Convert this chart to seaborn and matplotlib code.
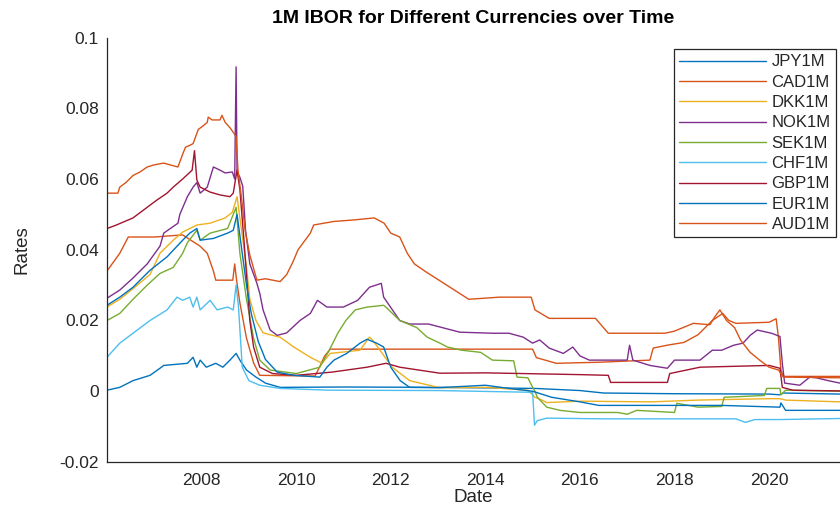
import numpy as np
import pandas as pd
import matplotlib
matplotlib.use("Agg")
import matplotlib.pyplot as plt
import seaborn as sns

# ---------------- data (decimal years, rates) ----------------
series_names = ["JPY1M", "CAD1M", "DKK1M", "NOK1M", "SEK1M", "CHF1M", "GBP1M", "EUR1M", "AUD1M"]
series_colors = ["#0072BD", "#D95319", "#EDB120", "#7E2F8E", "#77AC30",
                 "#4DBEEE", "#A2142F", "#0072BD", "#D95319"]

jpy_t = [2006.0, 2006.27, 2006.55, 2006.91, 2007.12, 2007.2, 2007.7, 2007.82, 2007.9, 2007.97,
         2008.1, 2008.3, 2008.45, 2008.6, 2008.73, 2008.81, 2008.95, 2009.15, 2009.35, 2009.66,
         2011.0, 2013.0, 2015.05, 2016.0, 2016.5, 2018.0, 2020.0, 2020.23, 2020.3, 2021.5]
jpy_v = [0.0003, 0.0011, 0.003, 0.0045, 0.0065, 0.0073, 0.0079, 0.0096, 0.0068, 0.0088,
         0.0068, 0.0079, 0.0068, 0.0088, 0.0107, 0.0088, 0.006, 0.004, 0.0023, 0.0011,
         0.0012, 0.0011, 0.0008, 0.0002, -0.0005, -0.0007, -0.0008, -0.001, -0.0005, -0.0008]

cad_t = [2006.0, 2006.27, 2006.45, 2007.0, 2007.6, 2007.97, 2008.12, 2008.25, 2008.3, 2008.66,
         2008.7, 2008.74, 2008.81, 2008.95, 2009.1, 2009.23, 2010.4, 2010.5, 2010.6, 2010.72,
         2015.0, 2015.08, 2015.5, 2016.4, 2017.48, 2017.55, 2017.84, 2018.2, 2018.5, 2018.8,
         2019.02, 2019.15, 2019.3, 2020.0, 2020.15, 2020.2, 2020.25, 2020.3, 2021.5]
cad_v = [0.034, 0.039, 0.0436, 0.0436, 0.0442, 0.041, 0.039, 0.034, 0.0314, 0.0314,
         0.036, 0.0314, 0.025, 0.015, 0.008, 0.0045, 0.0043, 0.007, 0.0099, 0.0119,
         0.0119, 0.0095, 0.0079, 0.0082, 0.0088, 0.0122, 0.013, 0.0138, 0.016, 0.020,
         0.022, 0.020, 0.0192, 0.0195, 0.0205, 0.015, 0.006, 0.0042, 0.0042]

dkk_t = [2006.0, 2006.27, 2006.55, 2006.91, 2007.12, 2007.4, 2007.6, 2007.9, 2008.18, 2008.5,
         2008.65, 2008.75, 2008.85, 2008.95, 2009.02, 2009.15, 2009.3, 2009.5, 2009.66, 2009.95,
         2010.3, 2010.55, 2010.72, 2011.35, 2011.55, 2011.62, 2011.82, 2012.03, 2012.4, 2012.62,
         2013.04, 2014.0, 2014.9, 2015.05, 2015.2, 2015.3, 2016.0, 2017.5, 2018.5, 2020.0,
         2020.23, 2020.35, 2021.5]
dkk_v = [0.0238, 0.026, 0.029, 0.033, 0.039, 0.0427, 0.045, 0.047, 0.0475, 0.049,
         0.0506, 0.055, 0.045, 0.035, 0.026, 0.020, 0.0165, 0.0158, 0.0153, 0.0125,
         0.0096, 0.0079, 0.0107, 0.0116, 0.0153, 0.0144, 0.0107, 0.0068, 0.003, 0.0023,
         0.001, 0.0011, 0.0003, -0.0017, -0.0025, -0.0032, -0.0028, -0.003, -0.0025, -0.0021,
         -0.0021, -0.0025, -0.003]

nok_t = [2006.0, 2006.27, 2006.55, 2006.85, 2007.12, 2007.2, 2007.5, 2007.54, 2007.7, 2007.82,
         2007.9, 2007.97, 2008.12, 2008.25, 2008.39, 2008.5, 2008.65, 2008.7, 2008.73, 2008.75,
         2008.81, 2008.87, 2008.93, 2009.02, 2009.17, 2009.23, 2009.3, 2009.45, 2009.6, 2009.8,
         2010.08, 2010.3, 2010.45, 2010.65, 2011.0, 2011.3, 2011.55, 2011.8, 2011.85, 2012.19,
         2012.4, 2012.8, 2013.46, 2014.15, 2014.5, 2014.8, 2015.0, 2015.15, 2015.35, 2015.65,
         2015.85, 2016.0, 2016.2, 2017.0, 2017.05, 2017.12, 2017.48, 2017.85, 2018.0, 2018.54,
         2018.8, 2019.0, 2019.25, 2019.45, 2019.6, 2019.75, 2020.05, 2020.23, 2020.28, 2020.33,
         2020.65, 2020.86, 2021.0, 2021.25, 2021.5]
nok_v = [0.0263, 0.0286, 0.032, 0.036, 0.041, 0.0447, 0.0475, 0.050, 0.055, 0.0577,
         0.059, 0.056, 0.0577, 0.0634, 0.0625, 0.0617, 0.062, 0.060, 0.0917, 0.062,
         0.0605, 0.058, 0.0455, 0.036, 0.0305, 0.0277, 0.023, 0.0173, 0.0158, 0.0165,
         0.020, 0.022, 0.0257, 0.0238, 0.0238, 0.0257, 0.0294, 0.0305, 0.0266, 0.020,
         0.019, 0.019, 0.0167, 0.0164, 0.0164, 0.0153, 0.0136, 0.0145, 0.0122, 0.0107,
         0.0125, 0.010, 0.0088, 0.0088, 0.013, 0.0088, 0.0073, 0.0065, 0.0088, 0.0088,
         0.0116, 0.0116, 0.013, 0.0136, 0.0158, 0.0173, 0.0164, 0.0155, 0.0079, 0.0023,
         0.0017, 0.004, 0.0038, 0.003, 0.0023]

sek_t = [2006.0, 2006.27, 2006.55, 2006.85, 2007.12, 2007.4, 2007.6, 2007.7, 2007.9, 2007.97,
         2008.18, 2008.55, 2008.73, 2008.81, 2008.95, 2009.1, 2009.23, 2009.45, 2010.0, 2010.5,
         2010.7, 2010.88, 2011.05, 2011.25, 2011.5, 2011.85, 2011.92, 2012.19, 2012.55, 2012.77,
         2013.04, 2013.2, 2013.5, 2013.9, 2014.15, 2014.6, 2014.67, 2014.9, 2015.0, 2015.05,
         2015.1, 2015.3, 2015.58, 2016.0, 2016.8, 2017.0, 2017.2, 2018.0, 2018.05, 2018.5,
         2019.0, 2019.05, 2019.9, 2019.95, 2020.23, 2020.25, 2020.35, 2021.5]
sek_v = [0.020, 0.022, 0.026, 0.030, 0.0333, 0.035, 0.039, 0.042, 0.0455, 0.0427,
         0.0447, 0.046, 0.052, 0.039, 0.026, 0.015, 0.0088, 0.006, 0.005, 0.0068,
         0.0116, 0.0164, 0.020, 0.023, 0.0238, 0.0243, 0.0235, 0.020, 0.018, 0.0153,
         0.0136, 0.0125, 0.0116, 0.011, 0.0088, 0.0086, 0.004, 0.0038, 0.0011, 0.0,
         -0.0017, -0.0045, -0.0054, -0.006, -0.006, -0.0065, -0.0054, -0.006, -0.0034, -0.0045,
         -0.0043, -0.0017, -0.0012, 0.0008, 0.0008, -0.001, 0.0003, 0.0]

chf_t = [2006.0, 2006.27, 2006.55, 2006.91, 2007.27, 2007.48, 2007.6, 2007.75, 2007.82, 2007.9,
         2007.97, 2008.18, 2008.33, 2008.55, 2008.67, 2008.73, 2008.78, 2008.86, 2009.0, 2009.23,
         2009.66, 2010.7, 2013.0, 2015.0, 2015.04, 2015.1, 2015.3, 2016.5, 2019.3, 2019.5,
         2019.7, 2020.23, 2021.5]
chf_v = [0.0096, 0.0136, 0.0164, 0.020, 0.023, 0.0266, 0.0257, 0.0266, 0.0238, 0.0266,
         0.023, 0.0257, 0.023, 0.0238, 0.023, 0.030, 0.024, 0.0068, 0.003, 0.0017,
         0.0008, 0.0003, 0.0002, -0.0003, -0.0096, -0.0083, -0.0076, -0.0078, -0.0078, -0.0088,
         -0.008, -0.008, -0.0077]

gbp_t = [2006.0, 2006.2, 2006.55, 2006.85, 2007.05, 2007.27, 2007.4, 2007.6, 2007.8, 2007.85,
         2007.9, 2007.97, 2008.18, 2008.39, 2008.6, 2008.67, 2008.75, 2008.81, 2008.9, 2009.02,
         2009.1, 2009.23, 2009.5, 2010.0, 2010.75, 2011.5, 2011.9, 2012.19, 2013.04, 2014.0,
         2016.0, 2016.6, 2016.65, 2017.0, 2017.85, 2017.9, 2018.54, 2020.0, 2020.23, 2020.28,
         2020.5, 2021.5]
gbp_v = [0.046, 0.047, 0.049, 0.052, 0.054, 0.056, 0.0577, 0.060, 0.0625, 0.068,
         0.0597, 0.0577, 0.0563, 0.0555, 0.055, 0.056, 0.0625, 0.057, 0.042, 0.020,
         0.0125, 0.0068, 0.005, 0.0045, 0.0054, 0.0068, 0.0079, 0.0068, 0.0051, 0.0052,
         0.0047, 0.0045, 0.0025, 0.0025, 0.0025, 0.005, 0.0068, 0.0073, 0.0065, 0.0011,
         0.0003, 0.0001]

eur_t = [2006.0, 2006.27, 2006.55, 2006.91, 2007.27, 2007.6, 2007.75, 2007.9, 2007.97, 2008.25,
         2008.55, 2008.67, 2008.75, 2008.85, 2008.95, 2009.05, 2009.2, 2009.35, 2009.6, 2009.95,
         2010.5, 2010.65, 2010.8, 2011.07, 2011.35, 2011.5, 2011.7, 2011.85, 2012.0, 2012.2,
         2012.4, 2013.0, 2014.0, 2014.5, 2015.0, 2015.4, 2016.0, 2016.4, 2017.5, 2019.0,
         2020.23, 2020.25, 2020.35, 2021.5]
eur_v = [0.0243, 0.0266, 0.0294, 0.0342, 0.038, 0.0427, 0.0447, 0.046, 0.0427, 0.0432,
         0.0447, 0.0455, 0.050, 0.040, 0.030, 0.022, 0.014, 0.009, 0.0054, 0.0045,
         0.004, 0.0068, 0.0088, 0.0107, 0.0136, 0.0147, 0.0136, 0.0125, 0.0068, 0.003,
         0.0011, 0.001, 0.0017, 0.0008, 0.0, -0.0017, -0.003, -0.004, -0.004, -0.004,
         -0.0045, -0.0033, -0.0054, -0.0054]

aud_t = [2006.0, 2006.23, 2006.27, 2006.4, 2006.55, 2006.7, 2006.85, 2007.0, 2007.2, 2007.33,
         2007.5, 2007.6, 2007.66, 2007.75, 2007.82, 2007.93, 2008.03, 2008.12, 2008.14, 2008.22,
         2008.39, 2008.43, 2008.5, 2008.6, 2008.68, 2008.73, 2008.77, 2008.85, 2008.92, 2009.02,
         2009.17, 2009.35, 2009.66, 2009.8, 2009.93, 2010.04, 2010.3, 2010.37, 2010.8, 2011.2,
         2011.65, 2011.86, 2012.0, 2012.19, 2012.35, 2012.5, 2012.75, 2012.95, 2013.3, 2013.65,
         2014.3, 2014.97, 2015.05, 2015.35, 2016.33, 2016.6, 2017.8, 2018.0, 2018.4, 2018.75,
         2018.85, 2018.96, 2019.1, 2019.27, 2019.4, 2019.6, 2019.8, 2020.0, 2020.2, 2020.3,
         2021.5]
aud_v = [0.056, 0.056, 0.0577, 0.059, 0.061, 0.062, 0.0634, 0.064, 0.0645, 0.064,
         0.0634, 0.067, 0.069, 0.0695, 0.070, 0.074, 0.075, 0.076, 0.0775, 0.0767,
         0.0767, 0.078, 0.076, 0.0745, 0.073, 0.0719, 0.0625, 0.054, 0.0455, 0.0385,
         0.0314, 0.0318, 0.031, 0.033, 0.0365, 0.040, 0.0447, 0.047, 0.048, 0.0484,
         0.049, 0.0475, 0.0447, 0.0436, 0.039, 0.036, 0.0337, 0.032, 0.029, 0.026,
         0.0266, 0.0266, 0.023, 0.0206, 0.0206, 0.0164, 0.0164, 0.017, 0.0192, 0.0188,
         0.021, 0.023, 0.020, 0.018, 0.0144, 0.011, 0.0088, 0.0068, 0.006, 0.004,
         0.0038]

x_ticks = [2008, 2010, 2012, 2014, 2016, 2018, 2020]
x_tick_labels = ["2008", "2010", "2012", "2014", "2016", "2018", "2020"]
y_ticks = [-0.02, 0, 0.02, 0.04, 0.06, 0.08, 0.1]
y_tick_labels = ["-0.02", "0", "0.02", "0.04", "0.06", "0.08", "0.1"]

# ---------------- build long table ----------------
all_t = [jpy_t, cad_t, dkk_t, nok_t, sek_t, chf_t, gbp_t, eur_t, aud_t]
all_v = [jpy_v, cad_v, dkk_v, nok_v, sek_v, chf_v, gbp_v, eur_v, aud_v]
frames = []
for name, t, v in zip(series_names, all_t, all_v):
    frames.append(pd.DataFrame({"Date": t, "Rate": v, "Series": name}))
df = pd.concat(frames, ignore_index=True)

# ---------------- plot ----------------
sns.set_theme(style="white")
plt.rcParams["font.family"] = ["Liberation Sans", "DejaVu Sans"]
ink = "#262626"

W, H = 840, 513
fig = plt.figure(figsize=(W / 100, H / 100), dpi=100)
ax = fig.add_axes([107 / W, 1 - 462 / H, (W - 107) / W, (462 - 37.5) / H])

palette = dict(zip(series_names, series_colors))
sns.lineplot(data=df, x="Date", y="Rate", hue="Series", hue_order=series_names,
             palette=palette, estimator=None, sort=True, linewidth=1.0, ax=ax)

ax.set_xlim(2006.0, 2021.5)
ax.set_ylim(-0.02, 0.1)
ax.set_xticks(x_ticks)
ax.set_xticklabels(x_tick_labels)
ax.set_yticks(y_ticks)
ax.set_yticklabels(y_tick_labels)

for side in ["top", "right"]:
    ax.spines[side].set_visible(False)
for side in ["left", "bottom"]:
    ax.spines[side].set_color(ink)
    ax.spines[side].set_linewidth(0.9)
ax.tick_params(axis="both", direction="in", length=5, width=0.8, color=ink,
               labelcolor=ink, labelsize=12.5)
ax.tick_params(axis="y", pad=6)
ax.tick_params(axis="x", pad=8)

ax.set_xlabel("")
ax.set_ylabel("")
fig.text(473 / W, 1 - 498 / H, "Date", ha="center", va="center", fontsize=13.5, color=ink)
fig.text(22 / W, 1 - 250 / H, "Rates", ha="center", va="center", rotation=90,
         fontsize=13.5, color=ink)
fig.text(473 / W, 1 - 19 / H, "1M IBOR for Different Currencies over Time",
         ha="center", va="center", fontsize=14, fontweight="bold", color="black")

handles, labels = ax.get_legend_handles_labels()
if ax.get_legend() is not None:
    ax.get_legend().remove()
leg = ax.legend(handles, labels, loc="upper right",
                bbox_to_anchor=(836 / W, 1 - 49 / H), bbox_transform=fig.transFigure,
                frameon=True, fancybox=False, framealpha=1, edgecolor=ink,
                borderaxespad=0, fontsize=12, handlelength=5.2, handletextpad=0.35,
                labelspacing=0.32, borderpad=0.32)
leg.get_frame().set_linewidth(0.9)
for line in leg.get_lines():
    line.set_linewidth(1.0)
for txt in leg.get_texts():
    txt.set_color(ink)

fig.savefig("out.png", dpi=100)
